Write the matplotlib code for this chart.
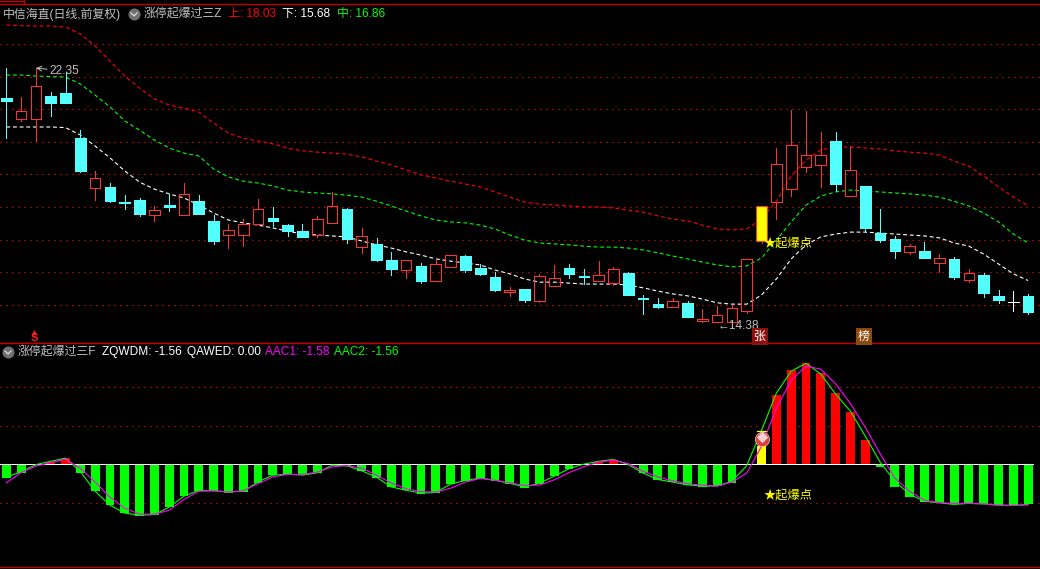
import matplotlib
matplotlib.use("Agg")
import matplotlib.pyplot as plt
from matplotlib.lines import Line2D

plt.rcParams["font.family"] = ["Liberation Sans", "Noto Sans CJK SC", "DejaVu Sans"]

# daily candles
opens = [21.41, 20.75, 20.75, 21.47, 21.57, 20.15, 18.58, 18.61, 18.14, 18.20,
         17.73, 18.05, 17.73, 18.17, 17.55, 17.11, 17.11, 17.45, 17.64, 17.42,
         17.23, 17.11, 17.48, 17.92, 16.73, 16.82, 16.32, 16.01, 16.13, 15.66,
         16.10, 16.45, 16.07, 15.79, 15.32, 15.41, 15.03, 15.51, 16.07, 15.82,
         15.66, 15.60, 15.91, 15.13, 14.94, 14.85, 14.97, 14.41, 14.38, 14.38,
         14.72, 16.92, 18.14, 18.55, 19.24, 19.30, 20.06, 18.33, 18.64, 17.17,
         16.98, 16.57, 16.60, 16.23, 16.35, 15.69, 15.85, 15.19, 15.00, 15.19]
closes = [21.31, 21.00, 21.78, 21.25, 21.25, 19.12, 18.90, 18.17, 18.12, 17.76,
          17.89, 17.98, 18.39, 17.76, 16.92, 17.26, 17.45, 17.92, 17.55, 17.23,
          17.04, 17.61, 18.02, 16.98, 17.07, 16.32, 16.04, 16.32, 15.66, 16.20,
          16.48, 16.01, 15.88, 15.38, 15.38, 15.07, 15.82, 15.76, 15.88, 15.79,
          15.85, 16.04, 15.22, 15.10, 14.85, 15.03, 14.53, 14.47, 14.60, 14.81,
          16.35, 18.02, 19.33, 19.93, 19.62, 19.62, 18.71, 19.15, 17.33, 16.95,
          16.60, 16.76, 16.38, 16.38, 15.79, 15.91, 15.29, 15.07, 15.00, 14.69]
highs = [22.35, 21.44, 22.35, 21.60, 22.22, 20.40, 19.12, 18.74, 18.36, 18.27,
         18.02, 18.39, 18.74, 18.36, 17.73, 17.45, 17.61, 18.24, 17.98, 17.45,
         17.45, 17.70, 18.46, 17.95, 17.33, 17.01, 16.57, 16.32, 16.23, 16.35,
         16.48, 16.48, 16.20, 15.95, 15.47, 15.41, 15.88, 16.16, 16.20, 16.04,
         16.29, 16.10, 15.95, 15.22, 15.13, 15.13, 15.03, 14.78, 14.88, 14.91,
         16.35, 18.02, 19.84, 21.03, 21.00, 20.34, 20.34, 19.90, 18.64, 17.92,
         17.07, 16.82, 16.89, 16.51, 16.42, 16.04, 15.91, 15.38, 15.35, 15.26]
lows = [20.15, 20.69, 20.06, 20.84, 21.25, 19.09, 18.20, 18.14, 17.92, 17.70,
        17.55, 17.86, 17.73, 17.76, 16.82, 16.70, 16.76, 17.45, 17.39, 17.07,
        17.04, 17.04, 17.48, 16.85, 16.54, 16.29, 15.85, 15.76, 15.60, 15.66,
        16.10, 15.95, 15.85, 15.35, 15.19, 15.00, 15.00, 15.51, 15.76, 15.57,
        15.66, 15.54, 15.22, 14.63, 14.81, 14.85, 14.53, 14.38, 14.38, 14.38,
        14.66, 16.85, 17.61, 18.33, 19.08, 18.61, 18.49, 18.33, 17.20, 16.89,
        16.38, 16.51, 16.38, 15.95, 15.73, 15.63, 15.16, 14.97, 14.72, 14.63]

# 上 / 中 / 下 bands
upper = [23.70, 23.68, 23.67, 23.67, 23.64, 23.42, 23.04, 22.57, 22.10, 21.72,
         21.38, 21.19, 21.09, 20.97, 20.62, 20.31, 20.15, 20.06, 19.97, 19.84,
         19.75, 19.71, 19.68, 19.65, 19.56, 19.43, 19.31, 19.15, 19.00, 18.90,
         18.80, 18.71, 18.62, 18.46, 18.30, 18.14, 18.08, 18.05, 18.02, 17.99,
         17.99, 17.96, 17.89, 17.83, 17.71, 17.61, 17.55, 17.42, 17.30, 17.27,
         17.30, 17.61, 18.17, 18.96, 19.46, 19.78, 19.87, 19.87, 19.84, 19.81,
         19.75, 19.71, 19.68, 19.62, 19.43, 19.27, 18.96, 18.62, 18.30, 18.03]
middle = [22.13, 22.13, 22.10, 22.08, 22.07, 21.85, 21.50, 21.13, 20.69, 20.40,
          20.09, 19.84, 19.68, 19.59, 19.18, 18.93, 18.80, 18.74, 18.65, 18.52,
          18.46, 18.43, 18.40, 18.36, 18.30, 18.17, 18.02, 17.86, 17.71, 17.58,
          17.52, 17.49, 17.42, 17.30, 17.11, 16.95, 16.86, 16.83, 16.80, 16.76,
          16.73, 16.73, 16.70, 16.64, 16.55, 16.45, 16.36, 16.26, 16.17, 16.11,
          16.14, 16.39, 16.95, 17.52, 18.05, 18.33, 18.46, 18.52, 18.49, 18.46,
          18.43, 18.40, 18.36, 18.30, 18.17, 18.02, 17.80, 17.52, 17.14, 16.86]
lower = [20.50, 20.50, 20.50, 20.50, 20.48, 20.25, 19.90, 19.53, 19.12, 18.77,
         18.55, 18.40, 18.27, 18.05, 17.80, 17.58, 17.49, 17.42, 17.33, 17.23,
         17.14, 17.11, 17.08, 17.05, 16.92, 16.80, 16.70, 16.58, 16.48, 16.36,
         16.29, 16.23, 16.17, 16.01, 15.89, 15.73, 15.63, 15.63, 15.60, 15.57,
         15.57, 15.57, 15.54, 15.45, 15.35, 15.26, 15.20, 15.10, 14.98, 14.94,
         14.94, 15.23, 15.73, 16.36, 16.80, 17.05, 17.14, 17.20, 17.20, 17.17,
         17.14, 17.11, 17.08, 17.02, 16.86, 16.76, 16.51, 16.20, 15.89, 15.68]

# lower panel
zqwdm = [-0.53, -0.32, 0.03, 0.10, 0.25, -0.34, -1.05, -1.60, -1.90, -2.01,
         -1.98, -1.67, -1.25, -1.02, -1.05, -1.11, -1.06, -0.72, -0.42, -0.41,
         -0.43, -0.35, -0.01, -0.06, -0.27, -0.53, -0.89, -0.99, -1.15, -1.10,
         -0.78, -0.63, -0.54, -0.66, -0.77, -0.92, -0.78, -0.45, -0.20, -0.02,
         0.09, 0.18, -0.03, -0.34, -0.62, -0.67, -0.80, -0.88, -0.86, -0.72,
         0.0, 0.71, 2.70, 3.67, 3.95, 3.56, 2.78, 2.04, 0.94, -0.10,
         -0.89, -1.28, -1.46, -1.49, -1.56, -1.54, -1.55, -1.59, -1.62, -1.56]
aac1 = [-0.72, -0.32, -0.07, 0.07, 0.20, -0.15, -0.69, -1.28, -1.71, -1.94,
        -1.94, -1.79, -1.36, -1.05, -1.03, -1.08, -1.03, -0.75, -0.49, -0.39,
        -0.39, -0.30, -0.10, -0.04, -0.15, -0.42, -0.73, -0.95, -1.06, -1.08,
        -0.93, -0.69, -0.55, -0.62, -0.72, -0.82, -0.81, -0.60, -0.32, -0.09,
        0.09, 0.16, 0.03, -0.27, -0.49, -0.64, -0.75, -0.81, -0.85, -0.69,
        -0.34, 0.71, 2.19, 3.28, 3.83, 3.71, 3.14, 2.37, 1.45, 0.42,
        -0.54, -1.05, -1.40, -1.49, -1.52, -1.52, -1.54, -1.59, -1.60, -1.58]
aac2 = [-0.50, -0.29, -0.01, 0.12, 0.24, -0.28, -1.05, -1.59, -1.90, -1.98,
        -1.96, -1.67, -1.24, -1.01, -1.03, -1.07, -1.05, -0.68, -0.42, -0.38,
        -0.42, -0.33, -0.03, -0.06, -0.25, -0.50, -0.88, -1.01, -1.12, -1.10,
        -0.77, -0.63, -0.53, -0.62, -0.74, -0.88, -0.74, -0.46, -0.17, 0.01,
        0.12, 0.19, -0.01, -0.34, -0.59, -0.69, -0.80, -0.85, -0.84, -0.66,
        -0.05, 1.33, 2.78, 3.63, 3.94, 3.52, 2.74, 2.07, 1.10, 0.09,
        -0.66, -1.16, -1.44, -1.50, -1.56, -1.52, -1.54, -1.59, -1.60, -1.56]

main_grid = [23.09, 22.07, 21.06, 20.02, 19.01, 17.98, 16.94, 15.94, 14.90]
sub_grid = [3.0, 1.5, -1.5]
signal_day = 51

RED = "#ff3232"
CYAN = "#54ffff"
GRID = "#a00000"
THIN = 0.6  # straight edges, one pixel wide with antialiasing off
W, H = 1040, 569


def place(fig, top, bottom):
    return fig.add_axes([0, 1 - bottom / H, 1, (bottom - top) / H])


def style(ax, ylim):
    ax.set_facecolor("black")
    ax.set_xlim(-0.425, 69.8)
    ax.set_ylim(*ylim)
    ax.set_xticks([])
    ax.set_yticks([])
    for name, sp in ax.spines.items():
        sp.set_visible(name in ("top", "bottom"))
        sp.set_color("#c00000")
        sp.set_linewidth(1.0)


fig = plt.figure(figsize=(W / 100, H / 100), dpi=100, facecolor="black")
ax = place(fig, 4, 343)
ax2 = place(fig, 343, 567)
style(ax, (13.72, 24.36))
style(ax2, (-4.0, 4.73))
days = list(range(len(opens)))

# --- main panel
for level in main_grid:
    ax.axhline(level, color=GRID, lw=THIN, ls=(0, (1.5, 6)), zorder=0.5, antialiased=False)

for band, color in [(upper, "#ff0000"), (middle, "#00ff00"), (lower, "#ffffff")]:
    ax.plot(days, band, color=color, lw=0.8, ls=(0, (3.5, 2.5)), zorder=1)

for i in days:
    o, h, l, c = opens[i], highs[i], lows[i], closes[i]
    top, bot = max(o, c), min(o, c)
    if i == signal_day:
        ax.vlines(i, l, bot, color=RED, lw=THIN, zorder=3, antialiased=False)
        ax.bar(i, top - bot, 0.72, bot, facecolor="#ffff00", edgecolor=RED, lw=THIN,
               zorder=3, antialiased=False)
    elif c > o:
        ax.vlines(i, top, h, color=RED, lw=THIN, zorder=3, antialiased=False)
        ax.vlines(i, l, bot, color=RED, lw=THIN, zorder=3, antialiased=False)
        ax.bar(i, top - bot, 0.72, bot, facecolor="none", edgecolor=RED, lw=THIN,
               zorder=3, antialiased=False)
    else:
        color = "#ffffff" if c == o else CYAN
        ax.vlines(i, l, h, color=color, lw=THIN, zorder=3, antialiased=False)
        ax.bar(i, max(top - bot, 0.01), 0.72, bot, facecolor=color, edgecolor=color, lw=THIN,
               zorder=3, antialiased=False)

ax.annotate("22.35", xy=(2, highs[2]), xytext=(14, -3), textcoords="offset pixels",
            color="#c0c0c0", fontsize=8.6, va="center",
            arrowprops=dict(arrowstyle="->", color="#c0c0c0", lw=0.7, shrinkA=0, shrinkB=0))
ax.annotate("←14.38", xy=(48, lows[48]), xytext=(0, -4), textcoords="offset pixels",
            color="#c0c0c0", fontsize=8.6, va="center")
ax.text(51.15, 16.83, "★起爆点", color="#ffff00", fontsize=8.8, va="center", zorder=5)

# --- lower panel
for level in sub_grid:
    ax2.axhline(level, color=GRID, lw=THIN, ls=(0, (1.5, 6)), zorder=0.5, antialiased=False)

bar_colors = ["#ffff00" if i == signal_day else ("#ff0000" if v > 0 else "#00ff00")
              for i, v in zip(days, zqwdm)]
ax2.bar(days, zqwdm, 0.6, color=bar_colors, zorder=1, antialiased=False)
ax2.plot([-0.425, 69.3], [0, 0], color="white", lw=0.7, zorder=2, antialiased=False)
ax2.plot(days, aac2, color="#00ff00", lw=0.8, zorder=3)
ax2.plot(days, aac1, color="#ff00ff", lw=0.8, zorder=4)
ax2.plot([signal_day - 0.3, signal_day + 0.3], [1.3, 1.3], color="#ffff00", lw=0.9, zorder=5)
ax2.scatter([signal_day], [1.0], s=105, color="#d84040", edgecolor="#ffc0c0", lw=0.5, zorder=6)
ax2.scatter([signal_day], [1.05], s=34, color="#f8d0d0", marker="D", lw=0, zorder=7)
ax2.text(51.1, -1.2, "★起爆点", color="#ffff00", fontsize=8.8, va="center", zorder=5)

# --- header texts and small icons, placed in pixels
over = fig.add_axes([0, 0, 1, 1], facecolor="none")
over.set_xlim(0, W)
over.set_ylim(H, 0)
over.axis("off")


def label(x, y, s, color, **kw):
    over.text(x, y, s, color=color, fontsize=8.6, va="center", **kw)


label(3, 14, "中信海直(日线,前复权)", "#c0c0c0")
label(144, 14, "涨停起爆过三Z", "#c0c0c0")
label(228, 14, "上: 18.03", "#ff0000")
label(282, 14, "下: 15.68", "#ffffff")
label(337, 14, "中: 16.86", "#00ff00")
label(18, 352, "涨停起爆过三F", "#c0c0c0")
label(102, 352, "ZQWDM: -1.56", "#ffffff")
label(187, 352, "QAWED: 0.00", "#ffffff")
label(265, 352, "AAC1: -1.58", "#ff00ff")
label(334, 352, "AAC2: -1.56", "#00ff00")

for x, y in [(134, 14), (8, 352)]:
    over.scatter([x], [y], s=75, color="#707070", lw=0)
    over.plot([x - 3, x, x + 3], [y - 1, y + 2, y - 1], color="#e0e0e0", lw=0.9)

over.text(34, 338, "S", color="#ff2020", fontsize=8, fontweight="bold", ha="center", va="center")
over.scatter([34], [332], s=14, marker="^", color="#ff2020", lw=0)

for x, s, box in [(760, "张", "#8c1010"), (864, "榜", "#8c4a10")]:
    over.text(x, 336.5, s, color="white", fontsize=8.6, ha="center", va="center",
              bbox=dict(boxstyle="square,pad=0.2", facecolor=box, edgecolor="none"))

fig.add_artist(Line2D([0, 24 / W], [1 - 0.5 / H, 1 - 0.5 / H], color="#c00000", lw=1))
fig.add_artist(Line2D([23.5 / W, 23.5 / W], [1, 1 - 4 / H], color="#c00000", lw=1))

fig.savefig("out.png", dpi=100, facecolor="black")
